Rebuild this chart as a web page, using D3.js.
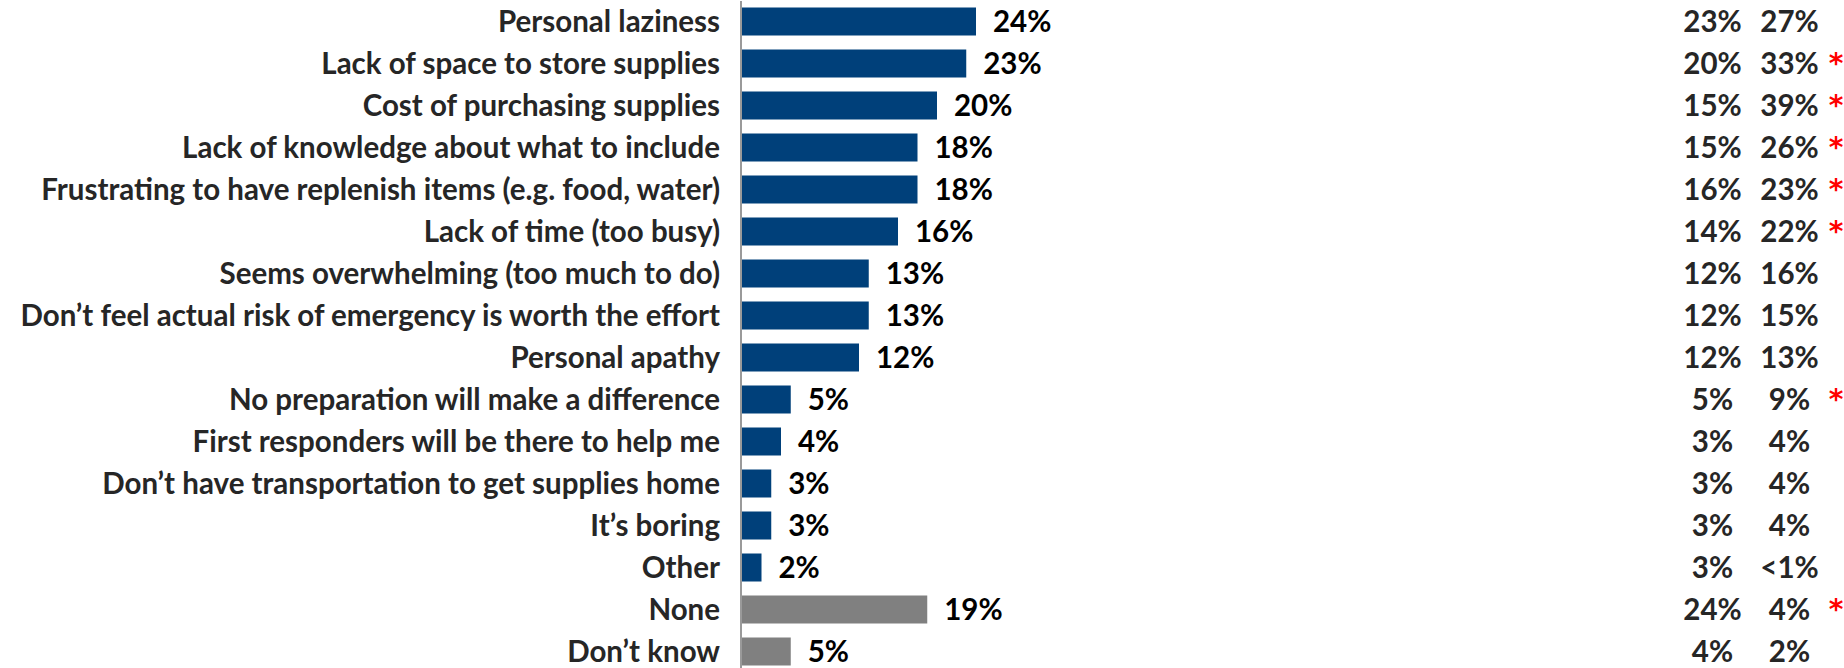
<!DOCTYPE html>
<html>
<head>
<meta charset="utf-8">
<script src="https://cdn.jsdelivr.net/npm/d3@7"></script>
<style>
  html, body { margin: 0; padding: 0; background: #ffffff; }
  svg { display: block; }
  text { font-family: Lato, "Liberation Sans", sans-serif; font-weight: 700; }
  text.star { font-family: "DejaVu Sans", sans-serif; font-weight: 700; }
</style>
</head>
<body>
<svg id="chart" width="1844" height="668"></svg>
<script>
const categories = [
  "Personal laziness",
  "Lack of space to store supplies",
  "Cost of purchasing supplies",
  "Lack of knowledge about what to include",
  "Frustrating to have replenish items (e.g. food, water)",
  "Lack of time (too busy)",
  "Seems overwhelming (too much to do)",
  "Don\u2019t feel actual risk of emergency is worth the effort",
  "Personal apathy",
  "No preparation will make a difference",
  "First responders will be there to help me",
  "Don\u2019t have transportation to get supplies home",
  "It\u2019s boring",
  "Other",
  "None",
  "Don\u2019t know"
];
const values = [24, 23, 20, 18, 18, 16, 13, 13, 12, 5, 4, 3, 3, 2, 19, 5];
const greyCategories = ["None", "Don\u2019t know"];
const column1 = ["23%", "20%", "15%", "15%", "16%", "14%", "12%", "12%", "12%", "5%", "3%", "3%", "3%", "3%", "24%", "4%"];
const column2 = ["27%", "33%", "39%", "26%", "23%", "22%", "16%", "15%", "13%", "9%", "4%", "4%", "4%", "<1%", "4%", "2%"];
const significant = [false, true, true, true, true, true, false, false, false, true, false, false, false, false, true, false];

const svg = d3.select("#chart");
const axisX = 741;
const x = d3.scaleLinear().domain([0, 24]).range([axisX + 1, axisX + 1 + 234]);
const y = d3.scaleBand().domain(categories).range([0.5, 672.5]).paddingInner(1/3).paddingOuter(1/6);
const cy = d => y(d) + y.bandwidth() / 2;

// category labels, font size fitted so longest label spans the reference width
const labels = svg.append("g").selectAll("text").data(categories).join("text")
  .attr("x", 720)
  .attr("y", cy)
  .attr("text-anchor", "end")
  .attr("fill", "#262626")
  .text(d => d);

let fs = 26;
labels.attr("font-size", fs);
let maxLen = d3.max(labels.nodes(), n => n.getComputedTextLength());
fs = fs * 700 / maxLen;
labels.attr("font-size", fs).attr("dy", (0.36 * fs) + "px");

// bars
svg.append("g").selectAll("rect").data(categories).join("rect")
  .attr("x", x(0))
  .attr("y", d => y(d))
  .attr("width", (d, i) => x(values[i]) - x(0))
  .attr("height", y.bandwidth())
  .attr("fill", d => greyCategories.includes(d) ? "#808080" : "#00407A");

// axis line
svg.append("line")
  .attr("x1", axisX).attr("x2", axisX)
  .attr("y1", 1).attr("y2", 668)
  .attr("stroke", "#9a9a9a").attr("stroke-width", 2);

// value labels
svg.append("g").selectAll("text").data(categories).join("text")
  .attr("x", (d, i) => x(values[i]) + 17)
  .attr("y", cy)
  .attr("dy", (0.36 * fs) + "px")
  .attr("font-size", fs)
  .attr("fill", "#000000")
  .text((d, i) => values[i] + "%");

// right columns
svg.append("g").selectAll("text").data(categories).join("text")
  .attr("x", 1712.5)
  .attr("y", cy)
  .attr("dy", (0.36 * fs) + "px")
  .attr("font-size", fs)
  .attr("text-anchor", "middle")
  .attr("fill", "#262626")
  .text((d, i) => column1[i]);

svg.append("g").selectAll("text").data(categories).join("text")
  .attr("x", 1789.5)
  .attr("y", cy)
  .attr("dy", (0.36 * fs) + "px")
  .attr("font-size", fs)
  .attr("text-anchor", "middle")
  .attr("fill", "#262626")
  .text((d, i) => column2[i]);

svg.append("g").selectAll("text").data(categories.filter((d, i) => significant[i])).join("text")
  .attr("class", "star")
  .attr("x", 1836)
  .attr("y", cy)
  .attr("dy", "9.5px")
  .attr("font-size", 28)
  .attr("text-anchor", "middle")
  .attr("fill", "#ff0000")
  .text("*");
</script>
</body>
</html>
